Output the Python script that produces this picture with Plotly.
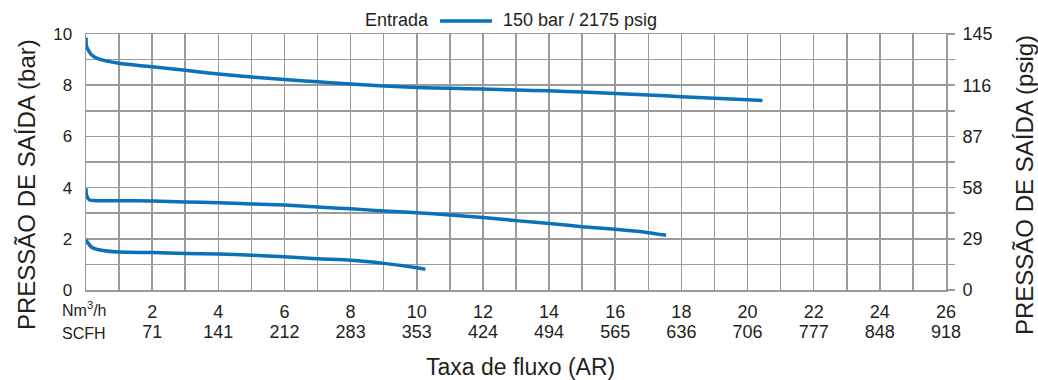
import plotly.graph_objects as go

# ---------------- data ----------------
flow_high = [0, 0.02, 0.17, 0.42, 1, 2, 3, 4, 5, 6, 7, 8, 9, 10, 11, 12, 13, 14, 15, 16, 17, 18, 19, 20, 20.45]
p_high = [9.86, 9.5, 9.18, 9.01, 8.86, 8.72, 8.58, 8.44, 8.32, 8.22, 8.13, 8.05, 7.97, 7.91, 7.88, 7.85, 7.81,
          7.78, 7.73, 7.68, 7.62, 7.55, 7.49, 7.43, 7.40]

flow_mid = [0, 0.02, 0.1, 0.3, 1, 2, 3, 4, 5, 6, 7, 8, 9, 10, 11, 12, 13, 14, 15, 16, 17, 17.54]
p_mid = [3.97, 3.7, 3.52, 3.49, 3.49, 3.48, 3.44, 3.41, 3.36, 3.32, 3.24, 3.17, 3.09, 3.02, 2.93, 2.83, 2.71,
         2.60, 2.47, 2.37, 2.24, 2.14]

flow_low = [0, 0.17, 0.42, 1, 2, 3, 4, 5, 6, 7, 8, 9, 10, 10.26]
p_low = [1.95, 1.67, 1.56, 1.48, 1.46, 1.43, 1.41, 1.36, 1.30, 1.22, 1.16, 1.04, 0.87, 0.81]

nm3h_ticks = [2, 4, 6, 8, 10, 12, 14, 16, 18, 20, 22, 24, 26]
scfh_labels = ["71", "141", "212", "283", "353", "424", "494", "565", "636", "706", "777", "848", "918"]
bar_ticks = [0, 2, 4, 6, 8, 10]
psig_ticks = [0, 29, 58, 87, 116, 145]

legend_title = "Entrada"
series_name = "150 bar / 2175 psig"

# ---------------- style ----------------
BLUE = "#0a72b9"
GRID = "#9b9b9b"
TXT = "#231f20"
FONT = "Liberation Sans, Arial, sans-serif"

W, H = 1038, 380
L, R, T, B = 86, 92, 34, 90
PW, PH = W - L - R, H - T - B


def px_x(px):
    return (px - L) / PW


def px_y(py):
    return (H - B - py) / PH


fig = go.Figure()
for fx, fy in [(flow_high, p_high), (flow_mid, p_mid), (flow_low, p_low)]:
    fig.add_trace(go.Scatter(x=fx, y=fy, mode="lines", line=dict(color=BLUE, width=3.5, shape="spline", smoothing=0.6),
                             showlegend=False, hoverinfo="skip"))

# dummy traces to activate the secondary axes
fig.add_trace(go.Scatter(x=[0, 0], y=[0, 0], yaxis="y2", mode="lines", line=dict(width=0), showlegend=False,
                         hoverinfo="skip"))
fig.add_trace(go.Scatter(x=[0, 0], y=[0, 0], xaxis="x2", mode="lines", line=dict(width=0), showlegend=False,
                         hoverinfo="skip"))

fig.update_layout(
    width=W, height=H,
    margin=dict(l=L, r=R, t=T, b=B, pad=0),
    paper_bgcolor="white", plot_bgcolor="white",
    font=dict(family=FONT, color=TXT, size=16),
    xaxis=dict(range=[0, 26], tickvals=nm3h_ticks, ticktext=[str(v) for v in nm3h_ticks],
               showgrid=True, gridcolor=GRID, gridwidth=1.5,
               minor=dict(dtick=1, tick0=0, showgrid=True, gridcolor=GRID, gridwidth=1.5),
               showline=True, linecolor=GRID, linewidth=1.5, mirror=True,
               ticks="", ticklabelstandoff=5, tickfont=dict(size=18), zeroline=False, fixedrange=True),
    xaxis2=dict(range=[0, 26], overlaying="x", side="bottom", anchor="y", matches="x",
                tickvals=nm3h_ticks, ticktext=scfh_labels, showgrid=False, showline=False, zeroline=False,
                ticks="", ticklabelstandoff=29, tickfont=dict(size=18)),
    yaxis=dict(range=[0, 10], tickvals=bar_ticks, showgrid=True, gridcolor=GRID, gridwidth=1.5,
               minor=dict(dtick=1, tick0=0, showgrid=True, gridcolor=GRID, gridwidth=1.5),
               showline=True, linecolor=GRID, linewidth=1.5, mirror=True,
               ticks="", ticklabelstandoff=9, tickfont=dict(size=17), zeroline=False),
    yaxis2=dict(range=[0, 145], overlaying="y", side="right", tickvals=psig_ticks, showgrid=False,
                ticks="outside", ticklen=8, tickwidth=1.5, tickcolor=GRID,
                minor=dict(dtick=14.5, tick0=0, ticks="outside", ticklen=8, tickwidth=1.5, tickcolor=GRID),
                showline=False, zeroline=False, ticklabelstandoff=4, tickfont=dict(size=18)),
)

ann = [
    dict(text="Nm<sup>3</sup>/h", x=px_x(60), y=px_y(309), xanchor="left", yanchor="middle"),
    dict(text="SCFH", x=px_x(60), y=px_y(333), xanchor="left", yanchor="middle"),
    dict(text="Taxa de fluxo (AR)", x=px_x(520), y=px_y(367), xanchor="center", yanchor="middle",
         font=dict(size=23)),
    dict(text="PRESSÃO DE SAÍDA (bar)", x=px_x(26), y=px_y(185), xanchor="center", yanchor="middle",
         textangle=-90, font=dict(size=24)),
    dict(text="PRESSÃO DE SAÍDA (psig)", x=px_x(1024), y=px_y(185), xanchor="center", yanchor="middle",
         textangle=-90, font=dict(size=24)),
    dict(text=legend_title, x=px_x(431), y=px_y(20), xanchor="right", yanchor="middle", font=dict(size=18)),
    dict(text=series_name, x=px_x(501), y=px_y(20), xanchor="left", yanchor="middle", font=dict(size=18)),
]
for a in ann:
    a.update(xref="paper", yref="paper", showarrow=False)
    fig.add_annotation(**a)

fig.add_shape(type="line", xref="paper", yref="paper", x0=px_x(440), x1=px_x(492), y0=px_y(21), y1=px_y(21),
              line=dict(color=BLUE, width=3.5))

fig.write_html("out.html", config={"displayModeBar": False, "staticPlot": True})
